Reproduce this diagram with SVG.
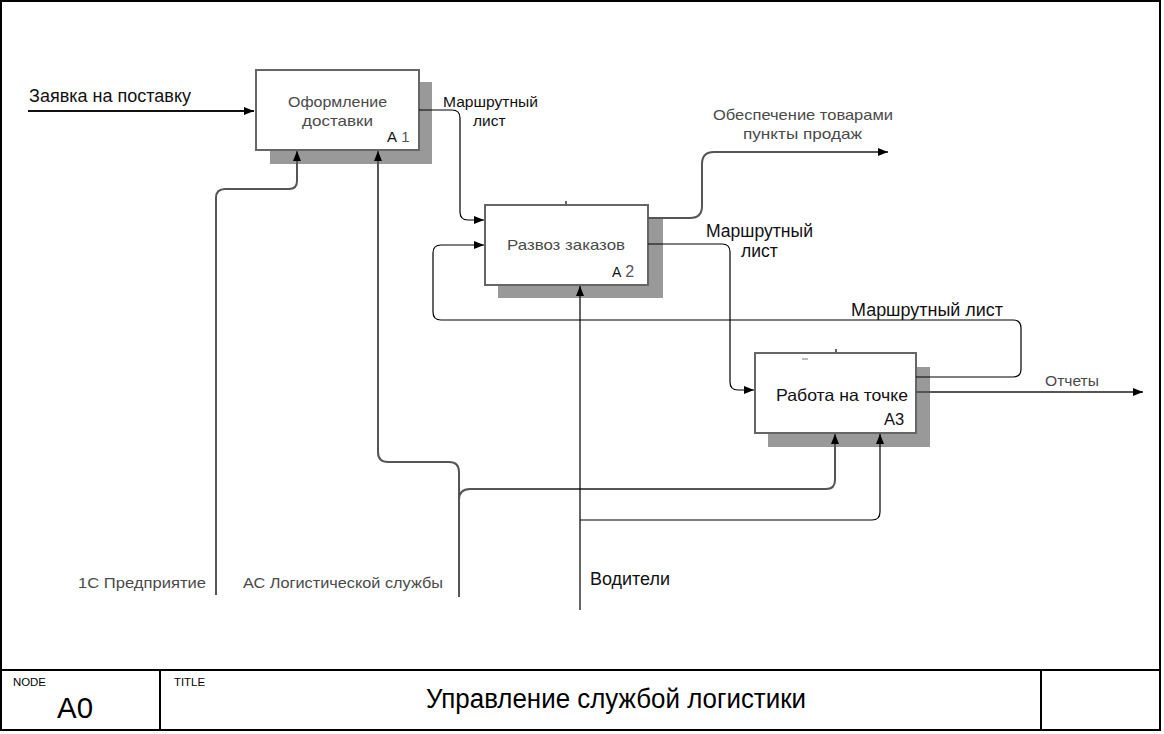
<svg xmlns="http://www.w3.org/2000/svg" width="1164" height="734" viewBox="0 0 1164 734">
<style>
text{font-family:"Liberation Sans",Arial,sans-serif;}
.box{fill:#fff;stroke:#666;stroke-width:2;}
.shadow{fill:#999;}
.thin{fill:none;stroke:#000;stroke-width:1.2;}
.thick{fill:none;stroke:#555;stroke-width:2;}
.lbl{font-size:17.5px;fill:#111;}
.glbl{font-size:15px;fill:#4a4a4a;}
.btxt{font-size:15px;fill:#4a4a4a;}
.frame{fill:none;stroke:#000;stroke-width:2;}
</style>
<defs>
<marker id="ah" markerWidth="10" markerHeight="8" refX="10" refY="4" orient="auto" markerUnits="userSpaceOnUse">
<path d="M0,0 L10,4 L0,8 Z" fill="#000"/>
</marker>
</defs>
<rect x="0" y="0" width="1164" height="734" fill="#fff"/>
<rect class="frame" x="1" y="1" width="1159" height="729"/>
<g id="title-bar">
<line class="frame" x1="1" y1="670" x2="1160" y2="670"/>
<line class="frame" x1="160" y1="670" x2="160" y2="730"/>
<line class="frame" x1="1041" y1="670" x2="1041" y2="730"/>
<text x="13" y="686" font-size="10" textLength="33" lengthAdjust="spacingAndGlyphs">NODE</text>
<text x="57" y="718" font-size="30" textLength="36" lengthAdjust="spacingAndGlyphs">A0</text>
<text x="174" y="686" font-size="10" textLength="31" lengthAdjust="spacingAndGlyphs">TITLE</text>
<text x="426" y="708" font-size="27" textLength="380" lengthAdjust="spacingAndGlyphs">Управление службой логистики</text>
</g>
<g id="A1">
<rect class="shadow" x="270" y="82" width="162" height="82"/>
<rect class="box" x="256" y="70" width="163" height="80"/>
<text class="btxt" x="288" y="107" textLength="99" lengthAdjust="spacingAndGlyphs">Оформление</text>
<text class="btxt" x="302" y="126" textLength="71" lengthAdjust="spacingAndGlyphs">доставки</text>
<text x="387" y="142" font-size="15" fill="#111">А <tspan fill="#555">1</tspan></text>
</g>
<g id="A2">
<rect class="shadow" x="498" y="218" width="165" height="80"/>
<rect class="box" x="485" y="205" width="163" height="80"/>
<line x1="566" y1="201" x2="566" y2="205" stroke="#666" stroke-width="2"/>
<text class="btxt" x="507" y="250" textLength="118" lengthAdjust="spacingAndGlyphs">Развоз заказов</text>
<text x="612" y="277" font-size="14" fill="#111">А <tspan fill="#555" font-size="16">2</tspan></text>
</g>
<g id="A3">
<rect class="shadow" x="768" y="367" width="162" height="80"/>
<rect class="box" x="755" y="353" width="161" height="80"/>
<line x1="836" y1="349" x2="836" y2="353" stroke="#666" stroke-width="2"/>
<line x1="802" y1="359" x2="808" y2="359" stroke="#777" stroke-width="1"/>
<text x="776" y="401" font-size="16.5" fill="#111" textLength="132" lengthAdjust="spacingAndGlyphs">Работа на точке</text>
<text x="884" y="425" font-size="16.5" fill="#111">А3</text>
</g>
<g id="connectors">
<path class="thick" d="M28 111 H254" style="stroke:#111" marker-end="url(#ah)"/>
<path class="thin" d="M419 110 H452 Q460 110 460 118 V212 Q460 220 468 220 H484" marker-end="url(#ah)"/>
<path class="thick" d="M648 218 H690 Q702 218 702 206 V164 Q702 152 714 152 H888" marker-end="url(#ah)"/>
<path class="thin" d="M648 244 H722 Q730 244 730 252 V382 Q730 390 738 390 H754" marker-end="url(#ah)"/>
<path class="thin" d="M916 377 H1013 Q1021 377 1021 369 V328 Q1021 320 1013 320 H441 Q433 320 433 312 V253 Q433 245 441 245 H484" marker-end="url(#ah)"/>
<path class="thick" d="M916 392 H1143" marker-end="url(#ah)"/>
<path class="thick" d="M216 595 V198 Q216 189 225 189 H289 Q297 189 297 181 V151" marker-end="url(#ah)"/>
<path class="thick" d="M459 597 V472 Q459 462 449 462 H388 Q378 462 378 452 V151" marker-end="url(#ah)"/>
<path class="thick" d="M459 500 Q459 489 470 489 H826 Q835 489 835 480 V434" marker-end="url(#ah)"/>
<path class="thin" d="M580 610 V286" marker-end="url(#ah)"/>
<path class="thin" d="M580 520 H872 Q880 520 880 512 V434" marker-end="url(#ah)"/>
</g>
<g id="labels">
<text class="lbl" x="29" y="102" textLength="162" lengthAdjust="spacingAndGlyphs">Заявка на поставку</text>
<text x="443" y="107" font-size="15.5" fill="#111" textLength="95" lengthAdjust="spacingAndGlyphs">Маршрутный</text>
<text x="473" y="126" font-size="15.5" fill="#111">лист</text>
<text class="glbl" x="713" y="120" textLength="180" lengthAdjust="spacingAndGlyphs">Обеспечение товарами</text>
<text class="glbl" x="743" y="139" textLength="119" lengthAdjust="spacingAndGlyphs">пункты продаж</text>
<text class="lbl" x="706" y="237" textLength="107" lengthAdjust="spacingAndGlyphs">Маршрутный</text>
<text class="lbl" x="741" y="257">лист</text>
<text class="lbl" x="851" y="316" textLength="152" lengthAdjust="spacingAndGlyphs">Маршрутный лист</text>
<text class="glbl" x="1045" y="386" textLength="54" lengthAdjust="spacingAndGlyphs">Отчеты</text>
<text class="glbl" x="78" y="588" textLength="128" lengthAdjust="spacingAndGlyphs">1С Предприятие</text>
<text class="glbl" x="243" y="588" textLength="200" lengthAdjust="spacingAndGlyphs">АС Логистической службы</text>
<text class="lbl" x="590" y="585" textLength="80" lengthAdjust="spacingAndGlyphs">Водители</text>
</g>
</svg>
